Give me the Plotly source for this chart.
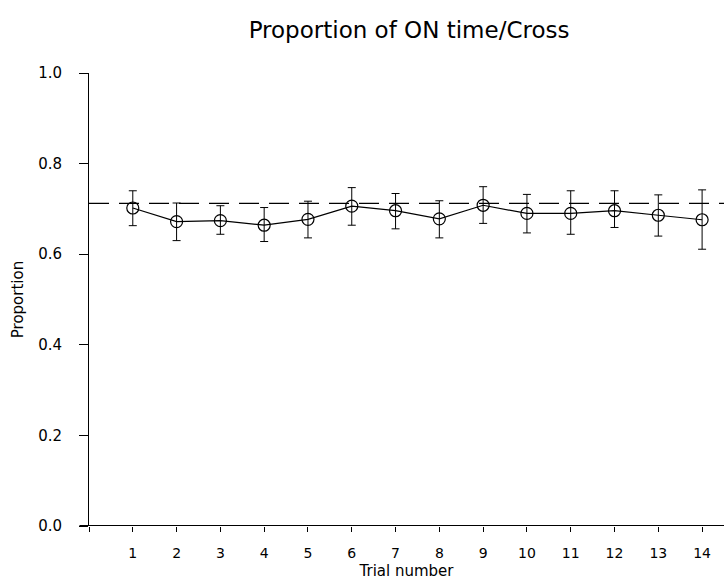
import plotly.graph_objects as go

trials = list(range(1, 15))
means = [0.702, 0.672, 0.674, 0.664, 0.677, 0.706, 0.696, 0.678, 0.708, 0.690, 0.690, 0.696, 0.686, 0.676]
upper = [0.740, 0.713, 0.707, 0.703, 0.717, 0.747, 0.734, 0.718, 0.749, 0.732, 0.740, 0.740, 0.731, 0.742]
lower = [0.663, 0.630, 0.644, 0.628, 0.636, 0.664, 0.656, 0.636, 0.668, 0.647, 0.644, 0.659, 0.640, 0.611]
reference_level = 0.712
x_ticks = list(range(0, 15))
x_tick_labels = [""] + [str(i) for i in range(1, 15)]
y_ticks = [0.0, 0.2, 0.4, 0.6, 0.8, 1.0]
y_tick_labels = ["0.0", "0.2", "0.4", "0.6", "0.8", "1.0"]

font_family = "DejaVu Sans"

fig = go.Figure()

fig.add_trace(go.Scatter(
    x=[0, 14.5], y=[reference_level, reference_level],
    mode="lines",
    line=dict(color="black", width=1.2, dash="20px,10px"),
    showlegend=False, hoverinfo="skip",
))

fig.add_trace(go.Scatter(
    x=trials, y=means,
    mode="lines+markers",
    line=dict(color="black", width=1.2),
    marker=dict(symbol="circle-open", size=12, color="black", line=dict(width=1.2)),
    error_y=dict(
        type="data", symmetric=False,
        array=[u - m for u, m in zip(upper, means)],
        arrayminus=[m - l for m, l in zip(means, lower)],
        color="black", thickness=1, width=4,
    ),
    showlegend=False,
))

fig.add_shape(type="line", xref="paper", yref="y", x0=-0.015, x1=1.0, y0=0, y1=0,
              line=dict(color="black", width=2))

fig.update_layout(
    width=724, height=580,
    margin=dict(l=89, r=0, t=73, b=54),
    paper_bgcolor="white", plot_bgcolor="white",
    font=dict(family=font_family, color="black", size=12),
    title=dict(text="Proportion of ON time/Cross", x=0.565, xanchor="center",
               y=0.948, yanchor="middle", font=dict(size=23, family=font_family)),
    xaxis=dict(
        range=[0, 14.5], tickmode="array", tickvals=x_ticks, ticktext=x_tick_labels,
        showline=False, showgrid=False, zeroline=False,
        ticks="outside", ticklen=5, tickwidth=1, tickcolor="black",
        tickfont=dict(size=14), ticklabelstandoff=9,
        title=dict(text="Trial number", font=dict(size=15), standoff=8),
    ),
    yaxis=dict(
        range=[0, 1.0], tickmode="array", tickvals=y_ticks, ticktext=y_tick_labels,
        showline=True, linecolor="black", linewidth=1, mirror=False,
        showgrid=False, zeroline=False,
        ticks="outside", ticklen=9, tickwidth=1, tickcolor="black",
        tickfont=dict(size=15), ticklabelstandoff=14,
        title=dict(text="Proportion", font=dict(size=15), standoff=10),
    ),
)

fig.write_html("out.html")
